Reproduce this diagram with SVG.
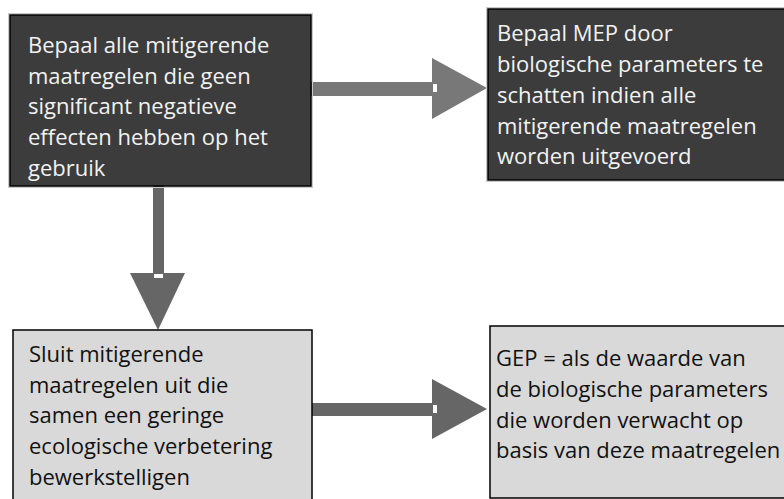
<svg xmlns="http://www.w3.org/2000/svg" width="784" height="499" viewBox="0 0 784 499">
<style>
.dark{fill:#3c3c3c;stroke:#000;stroke-width:1.5}
.light{fill:#d9d9d9;stroke:#000;stroke-width:1.5}
.halo{fill:none;stroke:#c8c8c8;stroke-width:1}
.tw{font-family:"Open Sans","DejaVu Sans",sans-serif;font-size:22px;fill:#f2f2f2}
.tb{font-family:"Open Sans","DejaVu Sans",sans-serif;font-size:22px;fill:#111}
.a1{fill:#787878}
.a2{fill:#666}
.notch{fill:#fff}
</style>
<rect width="784" height="499" fill="#fff"/>
<g id="connectors">
<g id="c1"><rect class="a1" x="311" y="82" width="122" height="14"/><polygon class="a1" points="432,58 487,88 432,119"/><rect class="notch" x="433" y="84" width="4" height="8"/></g>
<g id="c2"><rect class="a2" x="153" y="186" width="11" height="88"/><polygon class="a2" points="130,273 185,273 158,330"/><rect class="notch" x="154" y="274" width="9" height="4"/></g>
<g id="c3"><rect class="a2" x="312" y="403" width="121" height="13"/><polygon class="a2" points="432,379 487,409 432,439"/><rect class="notch" x="433" y="405" width="4" height="8"/></g>
</g>
<g id="n1">
<rect class="halo" x="8.5" y="13.5" width="304" height="174"/>
<rect class="dark" x="10" y="15" width="301" height="171"/>
<text class="tw"><tspan x="28" y="53">Bepaal alle mitigerende</tspan><tspan x="28" y="84">maatregelen die geen</tspan><tspan x="28" y="114">significant negatieve</tspan><tspan x="28" y="145">effecten hebben op het</tspan><tspan x="28" y="176">gebruik</tspan></text>
</g>
<g id="n2">
<rect class="halo" x="486.5" y="7.5" width="310" height="174"/>
<rect class="dark" x="488" y="9" width="310" height="171"/>
<text class="tw"><tspan x="497" y="41">Bepaal MEP door</tspan><tspan x="497" y="72">biologische parameters te</tspan><tspan x="497" y="103">schatten indien alle</tspan><tspan x="497" y="134">mitigerende maatregelen</tspan><tspan x="497" y="164">worden uitgevoerd</tspan></text>
</g>
<g id="n3">
<rect class="light" x="13" y="330" width="299" height="180"/>
<text class="tb"><tspan x="29" y="362">Sluit mitigerende</tspan><tspan x="29" y="393">maatregelen uit die</tspan><tspan x="29" y="423">samen een geringe</tspan><tspan x="29" y="454">ecologische verbetering</tspan><tspan x="29" y="485">bewerkstelligen</tspan></text>
</g>
<g id="n4">
<rect class="light" x="490" y="326" width="310" height="172"/>
<text class="tb"><tspan x="496" y="366">GEP = als de waarde van</tspan><tspan x="496" y="397">de biologische parameters</tspan><tspan x="496" y="428">die worden verwacht op</tspan><tspan x="496" y="458">basis van deze maatregelen</tspan></text>
</g>
</svg>
